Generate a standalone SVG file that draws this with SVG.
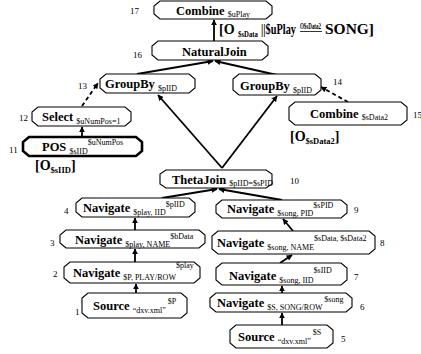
<svg xmlns="http://www.w3.org/2000/svg" width="421" height="354" viewBox="0 0 421 354">
<defs>
<marker id="ah" viewBox="0 0 10 10" refX="9" refY="5" markerWidth="6" markerHeight="6" markerUnits="userSpaceOnUse" orient="auto">
<path d="M0,0 L10,5 L0,10 Z" fill="#000"/>
</marker>
</defs>
<style>
.n{fill:#fff;stroke:#000;stroke-width:1.1}
.thick{stroke-width:2.6}
.m{font-family:"Liberation Serif",serif;font-weight:bold;font-size:12.5px}
.s{font-family:"Liberation Serif",serif;font-size:8px;font-weight:normal}
.sb{font-family:"Liberation Serif",serif;font-size:8.5px;font-weight:bold}
.num{font-family:"Liberation Serif",serif;font-size:9px}
.e{stroke:#000;stroke-width:1.8;fill:none;marker-end:url(#ah)}
.d{stroke-dasharray:4,3}
.lb{font-family:"Liberation Serif",serif;font-weight:bold;font-size:14px}
</style>
<rect width="421" height="354" fill="#fff"/>
<g id="connectors">
<line class="e" x1="214" y1="41" x2="214" y2="20"/>
<line class="e" x1="137" y1="74" x2="213" y2="61"/>
<line class="e" x1="277" y1="75" x2="215" y2="61"/>
<line class="e" x1="222" y1="168" x2="158" y2="95"/>
<line class="e" x1="222" y1="168" x2="277" y2="96"/>
<line class="e d" x1="348" y1="102" x2="321" y2="87"/>
<line class="e d" x1="82" y1="106" x2="98" y2="83"/>
<line class="e" x1="82" y1="137" x2="82" y2="127"/>
<line class="e" x1="162" y1="198" x2="217" y2="189"/>
<line class="e" x1="282" y1="200" x2="219" y2="189"/>
<line class="e" x1="135" y1="230" x2="135" y2="218"/>
<line class="e" x1="135" y1="262" x2="135" y2="249"/>
<line class="e" x1="136" y1="293" x2="136" y2="284"/>
<line class="e" x1="293" y1="231" x2="283" y2="219"/>
<line class="e" x1="280" y1="263" x2="292" y2="255"/>
<line class="e" x1="282" y1="293" x2="282" y2="286"/>
<line class="e" x1="282" y1="325" x2="282" y2="313"/>
</g>
<g id="edge-label">
<text class="lb" x="219" y="34" font-size="15px">[O</text>
<text class="sb" x="238" y="37" textLength="20" lengthAdjust="spacingAndGlyphs">$sData</text>
<text class="lb" x="261" y="34" font-size="13px" textLength="35" lengthAdjust="spacingAndGlyphs">||$uPlay</text>
<text class="sb" x="300" y="28.5" font-size="6px" textLength="21" lengthAdjust="spacingAndGlyphs">O$sData2</text>
<line x1="300" y1="31.5" x2="322" y2="31.5" stroke="#000" stroke-width="0.8"/>
<text class="lb" x="325" y="34" font-size="15px" textLength="49" lengthAdjust="spacingAndGlyphs">SONG]</text>
</g>
<g id="n17">
<path class="n" d="M160,1 H266 L272,6 V14 L266,19 H160 L154,14 V6 Z"/>
<text class="m" x="176" y="15" font-size="13px">Combine <tspan class="s" dy="2">$uPlay</tspan></text>
<text class="num" x="130" y="14">17</text>
</g>
<g id="n16">
<path class="n" d="M158,41 H262 L268,46 V55 L262,60 H158 L152,55 V46 Z"/>
<text class="m" x="182" y="56" font-size="13.5px">NaturalJoin</text>
<text class="num" x="133" y="58">16</text>
</g>
<g id="n13">
<path class="n" d="M106,74 H189 L195,79 V88 L189,93 H106 L100,88 V79 Z"/>
<text class="m" x="105" y="88" font-size="12px">GroupBy <tspan class="s" dy="3">$pIID</tspan></text>
<text class="num" x="78" y="89">13</text>
</g>
<g id="n14">
<path class="n" d="M239,74 H315 L321,79 V90 L315,95 H239 L233,90 V79 Z"/>
<text class="m" x="240" y="90">GroupBy <tspan class="s" dy="3">$pIID</tspan></text>
<text class="num" x="333" y="85">14</text>
</g>
<g id="n15">
<path class="n" d="M295,102 H401 L407,107 V120 L401,125 H295 L289,120 V107 Z"/>
<text class="m" x="310" y="118">Combine <tspan class="s" dy="2">$sData2</tspan></text>
<text class="num" x="413" y="118">15</text>
<text class="lb" x="290" y="141" font-size="15px">[O<tspan class="sb" dy="3">$sData2</tspan><tspan dy="-3">]</tspan></text>
</g>
<g id="n12">
<path class="n" d="M38,107 H125 L131,112 V121 L125,126 H38 L32,121 V112 Z"/>
<text class="m" x="42" y="121" font-size="13px">Select <tspan class="s" dy="3">$uNumPos=1</tspan></text>
<text class="num" x="19" y="121">12</text>
</g>
<g id="n11">
<path class="n thick" d="M29,137 H136 L142,142 V151 L136,156 H29 L23,151 V142 Z"/>
<text class="m" x="42" y="151" font-size="13.5px">POS <tspan class="s" dy="3">$sIID</tspan><tspan class="s" dy="-9">$uNumPos</tspan></text>
<text class="num" x="9" y="153">11</text>
<text class="lb" x="35" y="170" font-size="15px">[O<tspan class="sb" dy="3">$sIID</tspan><tspan dy="-3">]</tspan></text>
</g>
<g id="n10">
<path class="n" d="M166,170 H266 L272,174 V184 L266,188 H166 L160,184 V174 Z"/>
<text class="m" x="172" y="184" font-size="13.5px">ThetaJoin <tspan class="s" dy="2">$pIID=$sPID</tspan></text>
<text class="num" x="290" y="184">10</text>
</g>
<g id="n4">
<path class="n" d="M82,198 H189 L195,203 V212 L189,217 H82 L76,212 V203 Z"/>
<text class="m" x="83" y="212" font-size="12px">Navigate <tspan class="s" dy="3">$play, IID</tspan><tspan class="s" dy="-8">$pIID</tspan></text>
<text class="num" x="64" y="214">4</text>
</g>
<g id="n3">
<path class="n" d="M66,230 H199 L205,235 V243 L199,248 H66 L60,243 V235 Z"/>
<text class="m" x="75" y="244">Navigate <tspan class="s" dy="3">$play, NAME</tspan><tspan class="s" dy="-8">$bData</tspan></text>
<text class="num" x="50" y="246">3</text>
</g>
<g id="n2">
<path class="n" d="M70,262 H194 L200,267 V278 L194,283 H70 L64,278 V267 Z"/>
<text class="m" x="73" y="277">Navigate <tspan class="s" dy="3">$P, PLAY/ROW</tspan><tspan class="s" dy="-12">$play</tspan></text>
<text class="num" x="53" y="277">2</text>
</g>
<g id="n1">
<path class="n" d="M88,293 H181 L187,298 V313 L181,318 H88 L82,313 V298 Z"/>
<text class="m" x="93" y="310">Source <tspan class="s" dy="3">“dxv.xml”</tspan><tspan class="s" dy="-9"> $P</tspan></text>
<text class="num" x="75" y="315">1</text>
</g>
<g id="n9">
<path class="n" d="M222,200 H341 L347,205 V213 L341,218 H222 L216,213 V205 Z"/>
<text class="m" x="227" y="213">Navigate <tspan class="s" dy="3">$song, PID</tspan><tspan class="s" dy="-8">$sPID</tspan></text>
<text class="num" x="354" y="213">9</text>
</g>
<g id="n8">
<path class="n" d="M218,231 H369 L375,236 V249 L369,254 H218 L212,249 V236 Z"/>
<text class="m" x="217" y="247">Navigate <tspan class="s" dy="3">$song, NAME</tspan><tspan class="s" dy="-9">$sData, $sData2</tspan></text>
<text class="num" x="380" y="246">8</text>
</g>
<g id="n7">
<path class="n" d="M222,263 H341 L347,268 V280 L341,285 H222 L216,280 V268 Z"/>
<text class="m" x="229" y="280">Navigate <tspan class="s" dy="3">$song, IID</tspan><tspan class="s" dy="-10">$sIID</tspan></text>
<text class="num" x="354" y="280">7</text>
</g>
<g id="n6">
<path class="n" d="M216,293 H346 L352,298 V307 L346,312 H216 L210,307 V298 Z"/>
<text class="m" x="217" y="307">Navigate <tspan class="s" dy="3">$S,  SONG/ROW</tspan><tspan class="s" dy="-8"> $song</tspan></text>
<text class="num" x="360" y="310">6</text>
</g>
<g id="n5">
<path class="n" d="M236,325 H327 L333,330 V343 L327,348 H236 L230,343 V330 Z"/>
<text class="m" x="238" y="341">Source <tspan class="s" dy="3">“dxv.xml”</tspan><tspan class="s" dy="-9"> $S</tspan></text>
<text class="num" x="341" y="342">5</text>
</g>
</svg>
